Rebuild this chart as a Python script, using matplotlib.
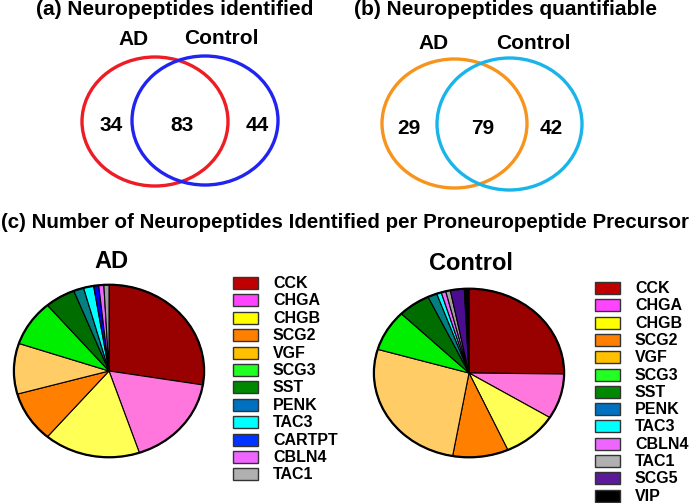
import matplotlib
matplotlib.use("Agg")
import matplotlib.pyplot as plt
from matplotlib.patches import Ellipse, Rectangle

# ---- data ----
venn_a_counts = [34, 83, 44]
venn_b_counts = [29, 79, 42]
venn_set_labels = ["AD", "Control"]

ad_names = ["CCK", "CHGA", "CHGB", "SCG2", "VGF", "SCG3", "SST", "PENK", "TAC3", "CARTPT", "CBLN4", "TAC1"]
ad_values = [32, 20, 19, 11, 11, 10, 6, 2, 2, 1, 1, 1]

ctrl_names = ["CCK", "CHGA", "CHGB", "SCG2", "VGF", "SCG3", "SST", "PENK", "TAC3", "CBLN4", "TAC1", "SCG5", "VIP"]
ctrl_values = [32, 11, 12, 12, 34, 10, 7, 2, 1, 1, 1, 3, 1]

pie_color = {"CCK": "#990000", "CHGA": "#ff77dd", "CHGB": "#ffff55", "SCG2": "#ff8000",
             "VGF": "#ffcc66", "SCG3": "#00ee00", "SST": "#006d00", "PENK": "#008080",
             "TAC3": "#00ffff", "CARTPT": "#0000ff", "CBLN4": "#ee66ff", "TAC1": "#a0a0a0",
             "SCG5": "#4b0d8f", "VIP": "#000000"}
leg_color = {"CCK": "#c00000", "CHGA": "#ff44ff", "CHGB": "#ffff00", "SCG2": "#ff8000",
             "VGF": "#ffc000", "SCG3": "#22ff22", "SST": "#008800", "PENK": "#0070c0",
             "TAC3": "#00ffff", "CARTPT": "#0033ff", "CBLN4": "#ee66ff", "TAC1": "#b0b0b0",
             "SCG5": "#5a1a9a", "VIP": "#000000"}

W, H = 697, 503
fig = plt.figure(figsize=(W / 100, H / 100), dpi=100)
base = fig.add_axes([0, 0, 1, 1])
base.set_xlim(0, W)
base.set_ylim(H, 0)
base.axis("off")

font = ["Liberation Sans", "DejaVu Sans"]

# ---- Venn diagrams ----
def venn(e1, e2, c1, c2, counts, title, tx, lab_pos, num_xs, num_y):
    base.text(tx, 9, title, ha="center", va="center", fontsize=15, fontweight="bold", family=font)
    for (cx, cy, rx, ry), col in ((e1, c1), (e2, c2)):
        base.add_patch(Ellipse((cx, cy), 2 * rx, 2 * ry, fill=False, ec=col, lw=2.4))
    for (x, y), lab in zip(lab_pos, venn_set_labels):
        base.text(x, y, lab, ha="center", va="center", fontsize=15, fontweight="bold", family=font)
    for x, v in zip(num_xs, counts):
        base.text(x, num_y, str(v), ha="center", va="center", fontsize=15, fontweight="bold", family=font)

venn((155, 121.5, 73, 64.5), (205, 120.5, 73, 64.5), "#ee1c24", "#1f24f0", venn_a_counts,
     "(a) Neuropeptides identified", 175, [(134, 39), (221, 38)], [111, 182, 257], 125)
venn((454.5, 123.5, 72.5, 64.5), (509.5, 124, 72.5, 66), "#f7941d", "#19b5ea", venn_b_counts,
     "(b) Neuropeptides quantifiable", 506, [(434, 43), (533, 43)], [409, 483, 551], 128)

base.text(1, 222, "(c) Number of Neuropeptides Identified per Proneuropeptide Precursor",
          ha="left", va="center", fontsize=14.8, fontweight="bold", family=font)

# ---- pies ----
def pie(cx, cy, rx, ry, names, values, title, ty, leg_x, leg_y0, leg_dy):
    ax = fig.add_axes([(cx - rx) / W, 1 - (cy + ry) / H, 2 * rx / W, 2 * ry / H])
    ax.pie(values, colors=[pie_color[n] for n in names], startangle=90,
           counterclock=False, radius=1,
           wedgeprops=dict(edgecolor="black", linewidth=0.8))
    ax.add_patch(Ellipse((0, 0), 2, 2, fill=False, ec="black", lw=1.6))
    ax.set_xlim(-1.02, 1.02)
    ax.set_ylim(-1.02, 1.02)
    ax.set_aspect("auto")
    ax.axis("off")
    base.text(cx + 2, ty, title, ha="center", va="center", fontsize=17, fontweight="bold", family=font)
    for i, n in enumerate(names):
        y = leg_y0 + i * leg_dy
        base.add_patch(Rectangle((leg_x, y - 6), 25, 12, fc=leg_color[n], ec="#333333", lw=1.0))
        base.text(leg_x + 40, y + 0.5, n, ha="left", va="center", fontsize=11.5, fontweight="bold", family=font)

pie(109, 371, 97, 88, ad_names, ad_values, "AD", 262, 233, 283, 17.4)
pie(469, 373, 97, 86, ctrl_names, ctrl_values, "Control", 263, 595, 288, 17.3)

fig.savefig("out.png", dpi=100)
